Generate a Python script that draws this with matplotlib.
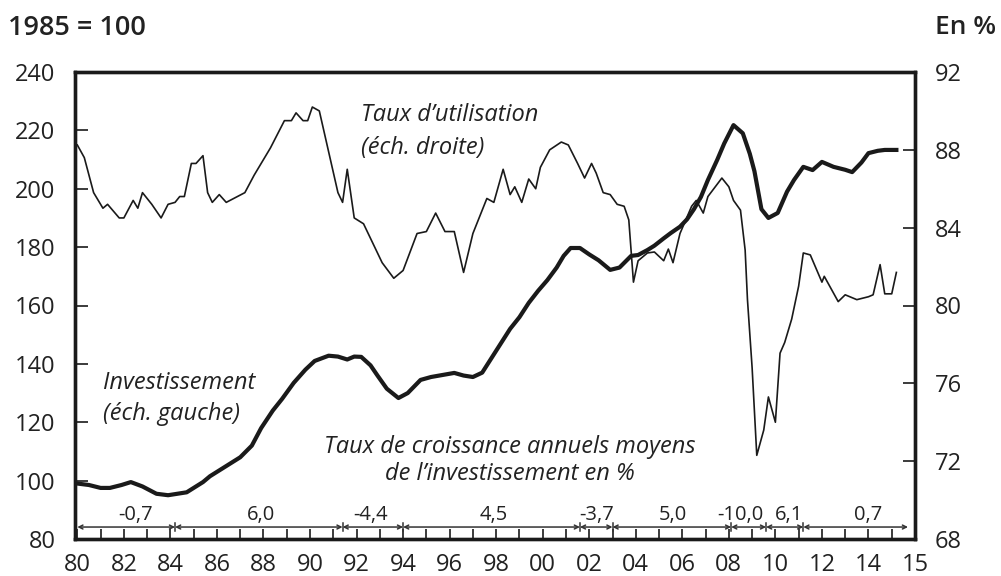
import matplotlib
matplotlib.use("Agg")
import matplotlib.pyplot as plt
from matplotlib.ticker import FixedLocator, MultipleLocator

plt.rcParams['font.family'] = ['Open Sans', 'DejaVu Sans']

# Investment (left axis, 1985 = 100)
inv_years = [1980.0, 1980.5, 1981.0, 1981.4, 1981.9, 1982.3, 1982.8, 1983.4, 1983.9, 1984.3,
             1984.7, 1985.0, 1985.4, 1985.7, 1986.2, 1986.6, 1987.0, 1987.5, 1987.9, 1988.4,
             1988.8, 1989.3, 1989.8, 1990.2, 1990.8, 1991.2, 1991.6, 1991.9, 1992.2, 1992.6,
             1992.9, 1993.3, 1993.8, 1994.2, 1994.75, 1995.2, 1995.7, 1996.2, 1996.6, 1997.0,
             1997.4, 1997.8, 1998.2, 1998.6, 1999.0, 1999.4, 1999.8, 2000.2, 2000.6, 2000.9,
             2001.2, 2001.6, 2002.0, 2002.4, 2002.9, 2003.3, 2003.8, 2004.1, 2004.5, 2004.8,
             2005.2, 2005.5, 2005.9, 2006.2, 2006.5, 2006.8, 2007.1, 2007.5, 2007.8, 2008.2,
             2008.6, 2008.9, 2009.1, 2009.4, 2009.7, 2010.1, 2010.5, 2010.8, 2011.2, 2011.6,
             2012.0, 2012.5, 2013.0, 2013.3, 2013.7, 2014.0, 2014.4, 2014.7, 2015.2]
inv_values = [99, 98.5, 97.5, 97.5, 98.5, 99.5, 98, 95.5, 95, 95.5,
              96, 97.5, 99.5, 101.5, 104, 106, 108, 112, 118, 124,
              128, 133.5, 138, 141, 142.8, 142.5, 141.5, 142.5, 142.4, 139.5,
              136, 131.5, 128.3, 130, 134.5, 135.5, 136.2, 136.9, 136, 135.5,
              137, 142, 147, 152, 156, 160.9, 165, 168.7, 173, 177,
              179.7, 179.7, 177.5, 175.5, 172.2, 173, 177, 177.3, 179, 180.5,
              183, 184.8, 187, 189.5, 193, 197.2, 203, 209.9, 215.5, 221.8,
              219, 212, 206, 193, 190, 191.7, 199, 203, 207.5, 206.4,
              209.2, 207.5, 206.5, 205.7, 209, 212.2, 213, 213.3, 213.3]

# Capacity utilisation rate (right axis, %)
util_years = [1980.0, 1980.3, 1980.7, 1981.1, 1981.3, 1981.8, 1982.0, 1982.4, 1982.6, 1982.8,
              1983.2, 1983.6, 1983.9, 1984.2, 1984.4, 1984.6, 1984.9, 1985.1, 1985.4, 1985.6,
              1985.8, 1986.1, 1986.4, 1987.2, 1987.6, 1988.3, 1988.9, 1989.2, 1989.4, 1989.7,
              1989.9, 1990.1, 1990.4, 1991.2, 1991.4, 1991.6, 1991.9, 1992.3, 1992.7, 1993.1,
              1993.6, 1994.0, 1994.6, 1995.0, 1995.4, 1995.8, 1996.2, 1996.6, 1997.0, 1997.6,
              1997.9, 1998.3, 1998.6, 1998.8, 1999.1, 1999.4, 1999.7, 1999.9, 2000.3, 2000.8,
              2001.1, 2001.5, 2001.8, 2002.1, 2002.3, 2002.6, 2002.9, 2003.2, 2003.5, 2003.7,
              2003.9, 2004.1, 2004.5, 2004.8, 2005.2, 2005.4, 2005.6, 2005.9, 2006.4, 2006.6,
              2006.9, 2007.1, 2007.7, 2008.0, 2008.2, 2008.5, 2008.7, 2008.8, 2009.0, 2009.2,
              2009.5, 2009.7, 2010.0, 2010.2, 2010.4, 2010.7, 2011.0, 2011.2, 2011.5, 2012.0,
              2012.1, 2012.7, 2013.0, 2013.5, 2014.0, 2014.2, 2014.5, 2014.7, 2015.0, 2015.2]
util_values = [88.25, 87.6, 85.8, 85.0, 85.2, 84.5, 84.5, 85.4, 85.0, 85.8,
               85.2, 84.5, 85.2, 85.3, 85.6, 85.6, 87.3, 87.3, 87.7, 85.8,
               85.3, 85.7, 85.3, 85.8, 86.7, 88.1, 89.5, 89.5, 89.9, 89.5,
               89.5, 90.2, 90.0, 85.8, 85.3, 87.0, 84.5, 84.2, 83.2, 82.2,
               81.4, 81.8, 83.7, 83.8, 84.75, 83.8, 83.8, 81.7, 83.7, 85.5,
               85.3, 87.0, 85.7, 86.1, 85.3, 86.5, 86.0, 87.1, 88.0, 88.4,
               88.25, 87.3, 86.55, 87.3, 86.8, 85.8, 85.7, 85.2, 85.1, 84.4,
               81.2, 82.3, 82.7, 82.75, 82.3, 82.9, 82.2, 83.7, 85.1, 85.4,
               84.75, 85.6, 86.55, 86.1, 85.4, 84.9, 82.85, 80.3, 76.8, 72.3,
               73.6, 75.3, 74.0, 77.55, 78.1, 79.3, 81.0, 82.7, 82.6, 81.2,
               81.5, 80.2, 80.55, 80.3, 80.45, 80.55, 82.1, 80.6, 80.6, 81.7]

# Average annual growth rates of investment over sub-periods
seg_bounds = [1980.0, 1984.2, 1991.4, 1994.0, 2001.6, 2003.0, 2008.1, 2009.6, 2011.2, 2015.7]
seg_labels = ['-0,7', '6,0', '-4,4', '4,5', '-3,7', '5,0', '-10,0', '6,1', '0,7']
seg_label_x = [1982.5, 1987.9, 1992.6, 1997.9, 2002.3, 2005.6, 2008.5, 2010.6, 2014.0]

x_tick_pos = [1980, 1982, 1984, 1986, 1988, 1990, 1992, 1994, 1996, 1998, 2000,
              2002, 2004, 2006, 2008, 2010, 2012, 2014, 2016]
x_tick_labels = ['80', '82', '84', '86', '88', '90', '92', '94', '96', '98', '00',
                 '02', '04', '06', '08', '10', '12', '14', '15']
left_ticks = [80, 100, 120, 140, 160, 180, 200, 220, 240]
right_ticks = [68, 72, 76, 80, 84, 88, 92]

W, H = 1001, 576
fig = plt.figure(figsize=(W / 100, H / 100), dpi=100)
ax = fig.add_axes([75 / W, 37 / H, 840 / W, 467 / H])
ax2 = ax.twinx()

ax.plot(inv_years, inv_values, color='#1a1a1a', lw=3.0, solid_joinstyle='round', zorder=3)
ax2.plot(util_years, util_values, color='#1a1a1a', lw=1.2, zorder=3)

ax.set_xlim(1979.9, 2016.0)
ax.set_ylim(80, 240)
ax2.set_ylim(68, 92)

ax.xaxis.set_major_locator(FixedLocator(x_tick_pos))
ax.set_xticklabels(x_tick_labels)
ax.xaxis.set_minor_locator(MultipleLocator(1))
ax.set_yticks(left_ticks)
ax2.set_yticks(right_ticks)

txtc = '#222222'
ax.tick_params(axis='x', which='both', direction='in', length=7, width=1.2,
               labelsize=17, pad=10, colors='#1a1a1a', labelcolor=txtc, top=False)
ax.tick_params(axis='y', direction='in', length=9, width=1.2, labelsize=17,
               pad=14, colors='#1a1a1a', labelcolor=txtc, right=False)
ax2.tick_params(axis='y', direction='in', length=9, width=1.2, labelsize=17,
                pad=14, colors='#1a1a1a', labelcolor=txtc)

for a in (ax, ax2):
    for s in a.spines.values():
        s.set_linewidth(2.4)
        s.set_color('#1a1a1a')

# growth-rate segments
yline = 84.1
for i in range(len(seg_labels)):
    x0, x1 = seg_bounds[i], seg_bounds[i + 1]
    ax.annotate('', xy=(x1, yline), xytext=(x0, yline),
                arrowprops=dict(arrowstyle='<->', color='#333333', lw=1.1,
                                shrinkA=0, shrinkB=0, mutation_scale=7))
    ax.text(seg_label_x[i], yline + 0.6, seg_labels[i], ha='center', va='bottom',
            fontsize=14.5, color=txtc)
for b in seg_bounds[1:-1]:
    ax.plot([b, b], [yline - 1.5, yline + 1.5], color='#333333', lw=1.1)

# annotations
ax.text(1992.2, 229.5, "Taux d\u2019utilisation\n(éch. droite)", fontsize=17,
        style='italic', color=txtc, va='top', ha='left', linespacing=1.5)
ax.text(1981.1, 137.5, "Investissement\n(éch. gauche)", fontsize=17,
        style='italic', color=txtc, va='top', ha='left', linespacing=1.4)
ax.text(1998.6, 115.5, "Taux de croissance annuels moyens\nde l\u2019investissement en %",
        fontsize=17, style='italic', color=txtc, va='top', ha='center', linespacing=1.15)

fig.text(8 / W, 1 - 28 / H, "1985 = 100", fontsize=19.5, fontweight='semibold',
         color=txtc, va='center', ha='left')
fig.text(935 / W, 1 - 28 / H, "En %", fontsize=19, fontweight='semibold',
         color=txtc, va='center', ha='left')

fig.savefig('out.png', dpi=100)
